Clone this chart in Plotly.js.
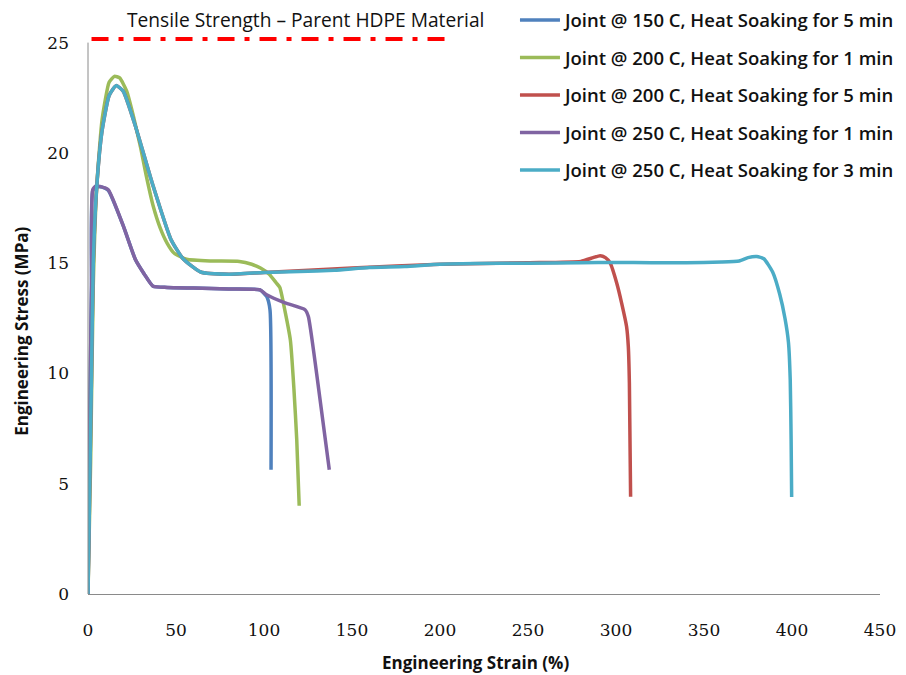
<!DOCTYPE html>
<html>
<head>
<meta charset="utf-8">
<script src="https://cdn.plot.ly/plotly-3.0.1.min.js"></script>
<style>html,body{margin:0;padding:0;background:#fff;}#chart{width:906px;height:675px;}</style>
</head>
<body>
<div id="chart"></div>
<script>
// Series names
const seriesNames = [
  "Joint @ 150 C, Heat Soaking for 5 min",
  "Joint @ 200 C, Heat Soaking for 1 min",
  "Joint @ 200 C, Heat Soaking for 5 min",
  "Joint @ 250 C, Heat Soaking for 1 min",
  "Joint @ 250 C, Heat Soaking for 3 min"
];
const seriesColors = ["#4F81BD", "#9BBB59", "#C0504D", "#8064A2", "#4BACC6"];

// Joint @ 150 C, 5 min (engineering strain %, stress MPa)
const strain150_5 = [0, 1, 2, 2.7, 5, 8, 11.5, 20, 27, 32, 37, 45, 60, 80, 97.7, 101.5, 103.4, 104];
const stress150_5 = [0, 8, 14, 18.3, 18.45, 18.45, 18.3, 16.7, 15.15, 14.5, 13.95, 13.9, 13.87, 13.83, 13.79, 13.49, 12.89, 5.63];

// Joint @ 200 C, 1 min
const strain200_1 = [0, 1.5, 3, 5, 8, 12, 15, 18, 22, 26, 30, 33, 37, 41, 45, 49, 56, 70, 86, 93, 98, 103, 107, 109, 112, 115, 117, 118.6, 120];
const stress200_1 = [0, 6, 14, 18.5, 21.5, 23.2, 23.47, 23.4, 22.8, 21.6, 20.2, 19.0, 17.6, 16.6, 15.9, 15.45, 15.18, 15.1, 15.08, 14.95, 14.78, 14.5, 14.1, 13.9, 12.8, 11.5, 9.3, 7.0, 4.0];

// Joint @ 200 C, 5 min
const strain200_5 = [0, 1, 2, 3, 5, 8, 12, 16, 20, 27, 37, 47, 54, 64, 80, 100, 150, 200, 250, 280, 287, 291, 294, 296.6, 300.4, 303.2, 306, 307, 307.6, 308.3];
const stress200_5 = [0, 5, 10, 15, 18.5, 21, 22.6, 23.05, 22.8, 21.2, 18.5, 16.1, 15.2, 14.6, 14.5, 14.58, 14.78, 14.95, 15.02, 15.08, 15.25, 15.34, 15.25, 15.02, 14.1, 13.19, 12.13, 11.22, 9.56, 4.41];

// Joint @ 250 C, 1 min
const strain250_1 = [0, 1, 2, 2.7, 4.5, 6.8, 11.5, 20, 27, 32, 37, 45, 60, 80, 97.7, 101.5, 112, 123.3, 125.2, 129.9, 137.1];
const stress250_1 = [0, 8, 14, 18.33, 18.5, 18.48, 18.33, 16.7, 15.15, 14.5, 13.95, 13.9, 13.87, 13.83, 13.79, 13.57, 13.2, 12.89, 12.58, 10.0, 5.63];

// Joint @ 250 C, 3 min
const strain250_3 = [0, 1, 2, 3, 5, 8, 12, 16, 20, 27, 37, 47, 54, 64, 80, 100, 120, 140, 160, 180, 200, 220, 250, 280, 300, 320, 340, 360, 370, 375, 380, 384, 389, 393, 396, 398, 399, 399.5, 399.8];
const stress250_3 = [0, 5, 10, 15, 18.5, 21, 22.6, 23.05, 22.8, 21.2, 18.5, 16.1, 15.2, 14.6, 14.5, 14.58, 14.62, 14.68, 14.8, 14.85, 14.95, 14.98, 15.0, 15.02, 15.03, 15.02, 15.02, 15.05, 15.1, 15.25, 15.3, 15.2, 14.6, 13.6, 12.5, 11.4, 9.7, 7.0, 4.4];

// Reference: tensile strength of parent HDPE material
const parentLabel = "Tensile Strength \u2013 Parent HDPE Material";
const parentStrainSpan = [2, 204];
const parentStress = 25.16;

const xTitle = "Engineering Strain (%)";
const yTitle = "Engineering Stress (MPa)";
const xTicks = [0, 50, 100, 150, 200, 250, 300, 350, 400, 450];
const yTicks = [0, 5, 10, 15, 20, 25];

const xs = [strain150_5, strain200_1, strain200_5, strain250_1, strain250_3];
const ys = [stress150_5, stress200_1, stress200_5, stress250_1, stress250_3];

const traces = seriesNames.map((name, i) => ({
  type: "scatter", mode: "lines", name: name,
  x: xs[i], y: ys[i],
  line: {color: seriesColors[i], width: 3.5, shape: "spline", smoothing: 0.5},
  legendgroup: "g" + i
}));
traces.push({
  type: "scatter", mode: "lines", showlegend: false, hoverinfo: "skip",
  x: parentStrainSpan, y: [parentStress, parentStress],
  line: {color: "#FF0000", width: 4, dash: "17px,10px,5px,10px"}
});

// plot-area geometry (pixels) used to place the text annotations
const W = 906, H = 675, L = 88, R = 26, B = 81, T = 36.4;
const PW = W - L - R, PH = H - T - B;
const px = v => (v - L) / PW;
const py = v => (H - B - v) / PH;

const yTop = 25.3;
const layout = {
  width: W, height: H,
  margin: {l: L, r: R, t: T, b: B, autoexpand: false},
  paper_bgcolor: "#fff", plot_bgcolor: "#fff",
  showlegend: true,
  xaxis: {
    range: [0, 450], tickvals: xTicks, ticktext: xTicks.map(String),
    showgrid: false, zeroline: false, showline: true, linecolor: "#8a8a8a", linewidth: 1,
    ticks: "", ticklabelstandoff: 21, automargin: false,
    tickfont: {family: "DejaVu Serif, Liberation Serif, serif", size: 17, color: "#111"}
  },
  yaxis: {
    range: [0, yTop], tickvals: yTicks, ticktext: yTicks.map(String),
    showgrid: false, zeroline: false, showline: false,
    ticks: "", ticklabelstandoff: 18, automargin: false,
    tickfont: {family: "DejaVu Serif, Liberation Serif, serif", size: 17, color: "#111"}
  },
  shapes: [{type: "line", xref: "paper", yref: "y", x0: 0, x1: 0, y0: yTicks[0], y1: yTicks[yTicks.length - 1],
    line: {color: "#8a8a8a", width: 1}}],
  legend: {
    xref: "container", yref: "container",
    x: 0.5684, y: 0.998, xanchor: "left", yanchor: "top",
    bgcolor: "rgba(255,255,255,0)", traceorder: "grouped", tracegroupgap: 10.5,
    font: {family: "Open Sans, sans-serif", size: 18.5, weight: 600, color: "#111"},
    itemwidth: 40
  },
  annotations: [
    {
      text: parentLabel, xref: "paper", yref: "paper", x: px(305), y: py(20),
      xanchor: "center", yanchor: "middle", showarrow: false,
      font: {family: "Open Sans, sans-serif", size: 19.2, color: "#111"}
    },
    {
      text: xTitle, xref: "paper", yref: "paper", x: px(475), y: py(662),
      xanchor: "center", yanchor: "middle", showarrow: false,
      font: {family: "Open Sans, sans-serif", size: 17, weight: 700, color: "#111"}
    },
    {
      text: yTitle, xref: "paper", yref: "paper", x: px(22), y: py(332),
      xanchor: "center", yanchor: "middle", showarrow: false, textangle: -90,
      font: {family: "Open Sans, sans-serif", size: 17, weight: 700, color: "#111"}
    }
  ]
};

Plotly.newPlot("chart", traces, layout, {displayModeBar: false, staticPlot: true});
</script>
</body>
</html>
